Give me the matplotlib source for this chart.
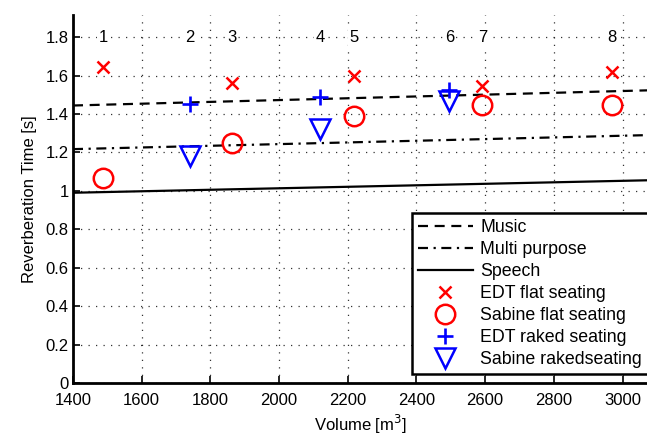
import matplotlib
matplotlib.use("Agg")
import matplotlib.pyplot as plt

plt.rcParams['font.family'] = ['Liberation Sans', 'DejaVu Sans']

hall_ids = ['1', '2', '3', '4', '5', '6', '7', '8']
volumes = [1488, 1740, 1862, 2120, 2218, 2496, 2592, 2970]

edt_flat_x = [1488, 1862, 2218, 2592, 2970]
edt_flat_y = [1.642, 1.563, 1.600, 1.548, 1.620]
sabine_flat_x = [1488, 1862, 2218, 2592, 2970]
sabine_flat_y = [1.068, 1.248, 1.390, 1.449, 1.447]
edt_raked_x = [1740, 2120, 2496]
edt_raked_y = [1.452, 1.489, 1.523]
sabine_raked_x = [1740, 2120, 2496]
sabine_raked_y = [1.180, 1.322, 1.469]

line_x = [1400, 3075]
music_y = [1.444, 1.523]
multi_y = [1.217, 1.290]
speech_y = [0.990, 1.055]

xticks = [1400, 1600, 1800, 2000, 2200, 2400, 2600, 2800, 3000]
yticks = [0, 0.2, 0.4, 0.6, 0.8, 1.0, 1.2, 1.4, 1.6, 1.8]
ytick_labels = ['0', '0.2', '0.4', '0.6', '0.8', '1', '1.2', '1.4', '1.6', '1.8']

FS = 12
W, H = 647, 436

fig = plt.figure(figsize=(W / 100, H / 100), dpi=100)
ax = fig.add_axes([73/W, 53/H, 1 - 73/W + 0.002, 368/H])

ax.plot(line_x, music_y, color='black', linestyle=(0, (4.5, 3)), lw=1.6, label='Music')
ax.plot(line_x, multi_y, color='black', linestyle=(0, (4.5, 2.5, 1, 2.5)), lw=1.6, label='Multi purpose')
ax.plot(line_x, speech_y, color='black', linestyle='-', lw=1.6, label='Speech')
ax.plot(edt_flat_x, edt_flat_y, linestyle='none', marker='x', color='red', ms=9, mew=1.8, label='EDT flat seating')
ax.plot(sabine_flat_x, sabine_flat_y, linestyle='none', marker='o', mfc='none', mec='red', ms=14, mew=1.8, label='Sabine flat seating')
ax.plot(edt_raked_x, edt_raked_y, linestyle='none', marker='+', color='blue', ms=12, mew=1.9, label='EDT raked seating')
ax.plot(sabine_raked_x, sabine_raked_y, linestyle='none', marker='v', mfc='none', mec='blue', ms=15, mew=1.8, label='Sabine rakedseating')

for lbl, v in zip(hall_ids, volumes):
    ax.text(v, 1.8, lbl, ha='center', va='center', fontsize=FS, color='black',
            bbox=dict(facecolor='white', edgecolor='none', pad=1.0))

ax.set_xlim(1400, 3075)
ax.set_ylim(0, 1.915)
ax.set_xticks(xticks)
ax.set_yticks(yticks)
ax.set_yticklabels(ytick_labels)
ax.tick_params(direction='in', length=5, width=1.2, labelsize=FS)
ax.tick_params(axis='x', pad=7)
ax.tick_params(axis='y', pad=3)
ax.grid(True, linestyle=(0, (1, 5)), color='black', lw=0.9, alpha=0.8)
ax.set_axisbelow(True)
for s in ['top', 'right']:
    ax.spines[s].set_visible(False)
for s in ['left', 'bottom']:
    ax.spines[s].set_linewidth(2)

ax.set_xlabel('Volume [m$^3$]', fontsize=FS, labelpad=4)
ax.set_ylabel('Reverberation Time [s]', fontsize=FS, labelpad=6)

leg = ax.legend(loc='lower right', bbox_to_anchor=(648/W, (H - 374)/H), bbox_transform=fig.transFigure,
                fontsize=12.8, frameon=True, fancybox=False,
                edgecolor='black', framealpha=1, handlelength=3.1, labelspacing=0.28,
                borderpad=0.35, handletextpad=0.4, borderaxespad=0.0)
leg.get_frame().set_linewidth(1.8)

fig.savefig('out.png', dpi=100)
